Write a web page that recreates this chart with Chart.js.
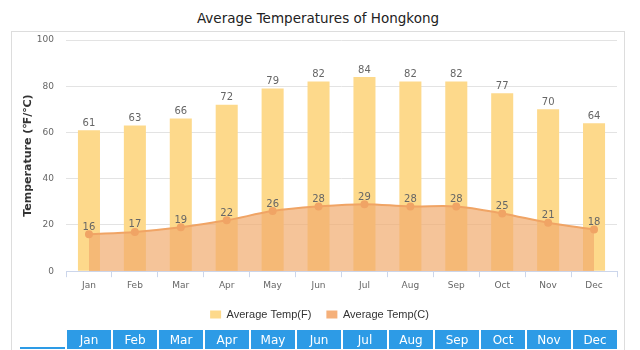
<!DOCTYPE html>
<html>
<head>
<meta charset="utf-8">
<script src="https://cdn.jsdelivr.net/npm/chart.js@4.4.0/dist/chart.umd.min.js"></script>
<style>
  body { margin: 0; background: #fff; width: 640px; height: 350px; overflow: hidden; position: relative; }
  #title { position: absolute; left: 0; top: 10px; width: 636px; text-align: center;
           font: 13.5px "DejaVu Sans", sans-serif; color: #222; }
  #box { position: absolute; left: 11px; top: 31px; width: 612px; height: 330px; border: 1px solid #ddd; }
  #wrap { position: absolute; left: 0; top: 0; width: 640px; height: 330px; }
  #months { position: absolute; left: 18px; top: 328px; border-collapse: separate; border-spacing: 2px 2px; }
  #months td { width: 44px; height: 17px; padding: 0; text-align: center;
               font: 12px "DejaVu Sans", sans-serif; color: #fff; background: #2d9be6; }
  #months td.blank { width: 45px; background: #fff; border-bottom: 2px solid #2d9be6; }
  #months tr.row2 td { background: #fde3a0; height: 17px; }
  #months tr.row2 td.blank { background: #fff; border: none; }
</style>
</head>
<body>
<div id="title">Average Temperatures of Hongkong</div>
<div id="box"></div>
<div id="wrap"><canvas id="chart" width="640" height="330"></canvas></div>
<table id="months">
  <tr id="head"><td class="blank"></td></tr>
  <tr class="row2" id="row2"><td class="blank"></td></tr>
</table>
<script>
const months = ["Jan", "Feb", "Mar", "Apr", "May", "Jun", "Jul", "Aug", "Sep", "Oct", "Nov", "Dec"];
const tempF = [61, 63, 66, 72, 79, 82, 84, 82, 82, 77, 70, 64];
const tempC = [16, 17, 19, 22, 26, 28, 29, 28, 28, 25, 21, 18];
const yTicks = [0, 20, 40, 60, 80, 100];

// month strip under the chart
const head = document.getElementById("head");
const row2 = document.getElementById("row2");
months.forEach(m => {
  const td = document.createElement("td");
  td.textContent = m;
  head.appendChild(td);
  row2.appendChild(document.createElement("td"));
});

// value labels above bars and points
const valueLabels = {
  id: "valueLabels",
  afterDatasetsDraw(chart) {
    const ctx = chart.ctx;
    ctx.save();
    ctx.font = "10px 'DejaVu Sans', sans-serif";
    ctx.fillStyle = "#666";
    ctx.textAlign = "center";
    ctx.textBaseline = "bottom";
    chart.data.datasets.forEach((ds, i) => {
      chart.getDatasetMeta(i).data.forEach((el, j) => {
        ctx.fillText(ds.data[j], el.x, el.y - 2);
      });
    });
    ctx.restore();
  }
};

const swatch = { "Average Temp(F)": "#fdd98b", "Average Temp(C)": "#f5b07a" };

new Chart(document.getElementById("chart"), {
  type: "bar",
  data: {
    labels: months,
    datasets: [
      {
        type: "line",
        label: "Average Temp(C)",
        data: tempC,
        borderColor: "#f0a465",
        backgroundColor: "rgba(241,171,110,0.7)",
        pointBackgroundColor: "#f0a465",
        pointBorderColor: "#f0a465",
        pointRadius: 3,
        borderWidth: 2,
        tension: 0.35,
        fill: "origin",
        order: 0
      },
      {
        label: "Average Temp(F)",
        data: tempF,
        backgroundColor: "#fdd98b",
        barPercentage: 0.48,
        categoryPercentage: 1,
        order: 1
      }
    ]
  },
  options: {
    responsive: false,
    animation: false,
    layout: { padding: { left: 22, right: 23, top: 40, bottom: 0 } },
    plugins: {
      title: { display: false },
      tooltip: { enabled: false },
      legend: {
        position: "bottom",
        reverse: true,
        labels: {
          boxWidth: 11,
          boxHeight: 8,
          padding: 15,
          color: "#333",
          font: { family: "'Liberation Sans', Arial, sans-serif", size: 11 },
          generateLabels: chart => chart.data.datasets.map((ds, i) => ({
            text: ds.label,
            fillStyle: swatch[ds.label],
            strokeStyle: swatch[ds.label],
            lineWidth: 0,
            fontColor: "#333",
            datasetIndex: i,
            hidden: false
          }))
        }
      }
    },
    scales: {
      x: {
        grid: { offset: true, drawOnChartArea: false, drawTicks: true, tickLength: 6, color: "#ccd6eb" },
        border: { color: "#ccd6eb" },
        ticks: { color: "#666", padding: 3, font: { family: "'DejaVu Sans', sans-serif", size: 9 } }
      },
      y: {
        min: 0,
        max: 100,
        afterBuildTicks: s => { s.ticks = yTicks.map(v => ({ value: v })); },
        afterFit: s => { s.width = 44; },
        grid: { color: "#e3e3e3", drawTicks: false },
        border: { display: false },
        ticks: { color: "#666", padding: 12, font: { family: "'DejaVu Sans', sans-serif", size: 9 } },
        title: {
          display: true,
          text: "Temperature (℉/℃)",
          color: "#333",
          padding: 0,
          font: { family: "'DejaVu Sans', sans-serif", size: 11, weight: "bold" }
        }
      }
    }
  },
  plugins: [valueLabels]
});
</script>
</body>
</html>
